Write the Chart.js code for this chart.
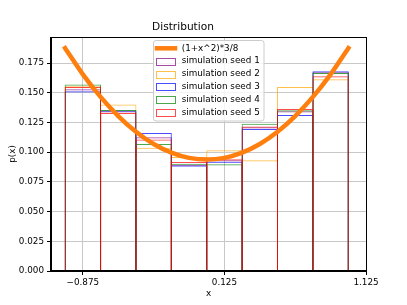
<!DOCTYPE html>
<html>
<head>
<meta charset="utf-8">
<script src="https://cdn.jsdelivr.net/npm/chart.js@4.4.1/dist/chart.umd.min.js"></script>
<style>
  html, body { margin: 0; padding: 0; background: #fff; }
  canvas { display: block; }
</style>
</head>
<body>
<canvas id="chart" width="407" height="305"></canvas>
<script>
// Histogram bins (centres of the 0.25 wide bins from -1 to 1)
const binCenters = [-0.875, -0.625, -0.375, -0.125, 0.125, 0.375, 0.625, 0.875];

// Bin probabilities per simulation seed
const seed1 = [0.1529, 0.1345, 0.1126, 0.0893, 0.0932, 0.1210, 0.1344, 0.1672];
const seed2 = [0.1555, 0.1400, 0.1036, 0.0960, 0.1015, 0.0932, 0.1548, 0.1613];
const seed3 = [0.1512, 0.1350, 0.1162, 0.0888, 0.0920, 0.1195, 0.1313, 0.1680];
const seed4 = [0.1570, 0.1355, 0.1069, 0.0902, 0.0898, 0.1240, 0.1352, 0.1665];
const seed5 = [0.1548, 0.1330, 0.1106, 0.0918, 0.0940, 0.1215, 0.1363, 0.1638];

// Theory curve, read at steps of 0.125
const curveX = [-1, -0.875, -0.75, -0.625, -0.5, -0.375, -0.25, -0.125, 0,
                0.125, 0.25, 0.375, 0.5, 0.625, 0.75, 0.875, 1];
const curveY = [0.1875, 0.1655, 0.1465, 0.1304, 0.1172, 0.1069, 0.0996, 0.0952, 0.0938,
                0.0952, 0.0996, 0.1069, 0.1172, 0.1304, 0.1465, 0.1655, 0.1875];

const xTicks = [-0.875, 0.125, 1.125];
const yTicks = [0, 0.025, 0.05, 0.075, 0.1, 0.125, 0.15, 0.175];

const seedLabels = ['simulation seed 1', 'simulation seed 2', 'simulation seed 3',
                    'simulation seed 4', 'simulation seed 5'];
const seedColors = ['rgba(128,0,128,0.7)', 'rgba(255,165,0,0.7)', 'rgba(0,0,255,0.7)',
                    'rgba(0,128,0,0.7)', 'rgba(255,0,0,0.7)'];
const curveLabel = '(1+x^2)*3/8';
const curveColor = '#ff7f0e';

const FONT = "'DejaVu Sans', sans-serif";

const seeds = [seed1, seed2, seed3, seed4, seed5];
const barSets = seeds.map((vals, i) => ({
    type: 'bar',
    label: seedLabels[i],
    data: vals.map((v, j) => ({ x: binCenters[j], y: v })),
    backgroundColor: 'rgba(0,0,0,0)',
    borderColor: seedColors[i],
    borderWidth: 1,
    borderSkipped: 'start',
    // a bit over 1 so neighbouring edges land on the same pixel column
    barPercentage: 1.028,
    categoryPercentage: 1,
    grouped: false,
    order: 5 - i
}));

const lineSet = {
    type: 'line',
    label: curveLabel,
    data: curveX.map((x, i) => ({ x: x, y: curveY[i] })),
    borderColor: curveColor,
    borderWidth: 4.5,
    borderCapStyle: 'square',
    pointRadius: 0,
    fill: false,
    cubicInterpolationMode: 'monotone',
    order: 0
};

// axes frame + legend drawn inside the plot
const framePlugin = {
    id: 'frame',
    afterDraw(chart) {
        const ctx = chart.ctx;
        const a = chart.chartArea;
        ctx.save();
        ctx.strokeStyle = '#000';
        ctx.lineWidth = 1;
        ctx.strokeRect(Math.round(a.left) - 0.5, Math.round(a.top) + 0.5,
                       Math.round(a.right - a.left) + 1, Math.round(a.bottom - a.top) - 1);

        // legend
        const bx = 153.5, by = 40.5, bw = 110.5, bh = 80.5, r = 2.5;
        ctx.beginPath();
        ctx.moveTo(bx + r, by);
        ctx.arcTo(bx + bw, by, bx + bw, by + bh, r);
        ctx.arcTo(bx + bw, by + bh, bx, by + bh, r);
        ctx.arcTo(bx, by + bh, bx, by, r);
        ctx.arcTo(bx, by, bx + bw, by, r);
        ctx.closePath();
        ctx.fillStyle = 'rgba(255,255,255,0.8)';
        ctx.fill();
        ctx.strokeStyle = '#cccccc';
        ctx.stroke();

        const rowY = i => 48.3 + i * 12.88;
        ctx.font = '8.8px ' + FONT;
        ctx.textBaseline = 'middle';
        ctx.textAlign = 'left';

        ctx.beginPath();
        ctx.moveTo(157, rowY(0));
        ctx.lineTo(175, rowY(0));
        ctx.strokeStyle = curveColor;
        ctx.lineWidth = 4.5;
        ctx.lineCap = 'square';
        ctx.stroke();
        ctx.fillStyle = '#000';
        ctx.fillText(curveLabel, 181.7, rowY(0));

        ctx.lineWidth = 1;
        seedLabels.forEach((lab, i) => {
            const y = rowY(i + 1);
            ctx.strokeStyle = seedColors[i];
            ctx.strokeRect(156.5, Math.round(y - 3.5) + 0.5, 19, 7);
            ctx.fillStyle = '#000';
            ctx.fillText(lab, 181.7, y);
        });
        ctx.restore();
    }
};

new Chart(document.getElementById('chart'), {
    type: 'bar',
    data: { datasets: [...barSets, lineSet] },
    plugins: [framePlugin],
    options: {
        responsive: false,
        animation: false,
        layout: { padding: { left: 0, right: 41, top: 0, bottom: 0 } },
        plugins: {
            legend: { display: false },
            tooltip: { enabled: false },
            title: {
                display: true,
                text: 'Distribution',
                color: '#000',
                font: { family: FONT, size: 10.6, weight: 'normal' },
                padding: { top: 20.6, bottom: 3.7 }
            }
        },
        scales: {
            x: {
                type: 'linear',
                min: -1.1,
                max: 1.125,
                offset: false,
                grid: { offset: false, color: '#c8c8c8', lineWidth: 1, tickLength: 4, tickColor: '#000' },
                border: { color: '#000', width: 1 },
                ticks: {
                    color: '#000',
                    padding: 2,
                    maxRotation: 0,
                    font: { family: FONT, size: 8.8 },
                    callback: v => String(v).replace('-', '\u2212')
                },
                afterBuildTicks: s => { s.ticks = xTicks.map(v => ({ value: v })); },
                afterFit: s => { s.height = 34; },
                title: {
                    display: true,
                    text: 'x',
                    color: '#000',
                    font: { family: FONT, size: 8.8 },
                    padding: { top: 0, bottom: 5.7 }
                }
            },
            y: {
                min: 0,
                max: 0.196875,
                grid: { color: '#c8c8c8', lineWidth: 1, tickLength: 4, tickColor: '#000' },
                border: { color: '#000', width: 1 },
                ticks: {
                    color: '#000',
                    padding: 3,
                    font: { family: FONT, size: 8.8 },
                    callback: v => v.toFixed(3)
                },
                afterBuildTicks: s => { s.ticks = yTicks.map(v => ({ value: v })); },
                afterFit: s => { s.width = 51; },
                title: {
                    display: true,
                    text: 'p(x)',
                    color: '#000',
                    font: { family: FONT, size: 8.8 },
                    padding: { top: 7, bottom: 4 }
                }
            }
        }
    }
});
</script>
</body>
</html>
